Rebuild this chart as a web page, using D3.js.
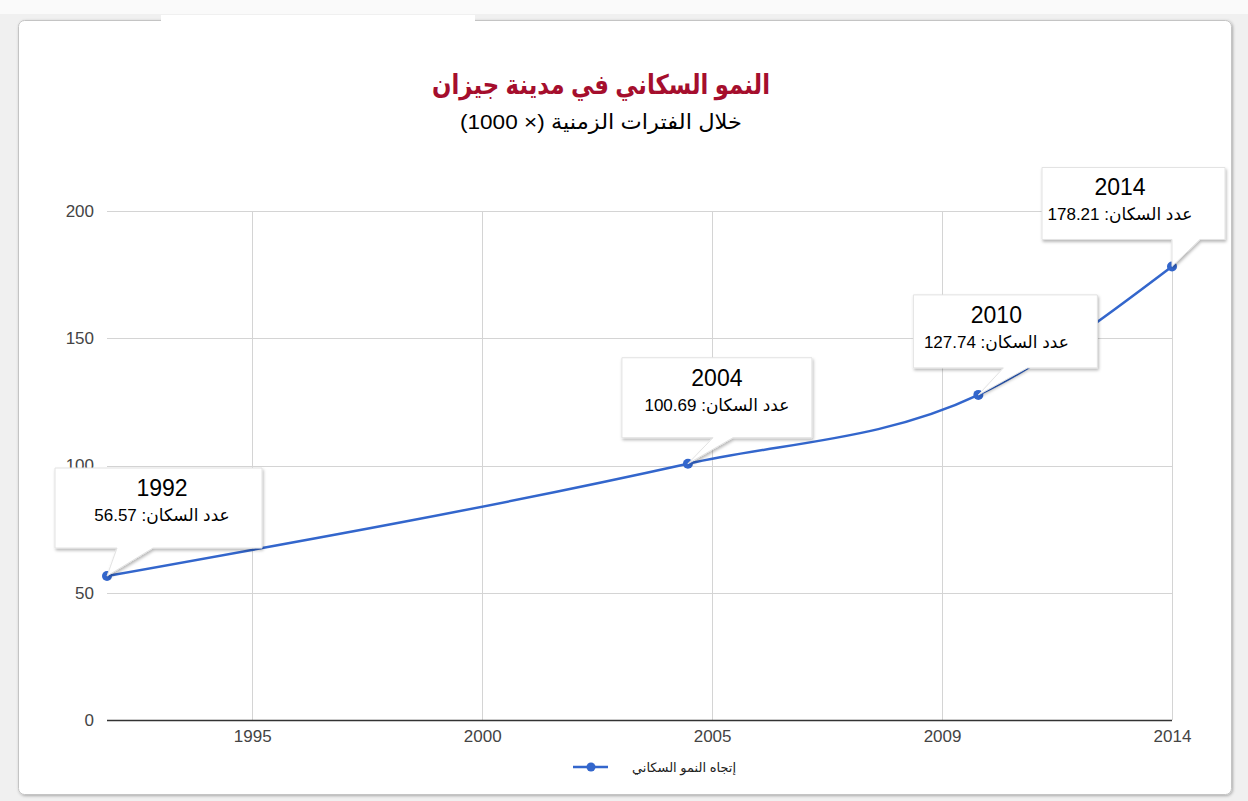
<!DOCTYPE html>
<html>
<head>
<meta charset="utf-8">
<style>
  body {
    background-color: #f0f0f0;
    margin: 0px;
  }
  svg {
    display: block;
  }
  text {
    font-family: "Liberation Sans", Arial, "DejaVu Sans", sans-serif;
  }
</style>
<script src="https://cdn.jsdelivr.net/npm/d3@7"></script>
</head>
<body>
<svg></svg>
<script>
// data
const years = [1992, 2004, 2010, 2014];
const population = [56.57, 100.69, 127.74, 178.21];
const xTicks = [1995, 1999.75, 2004.5, 2009.25, 2014];
const xTickLabels = ["1995", "2000", "2005", "2009", "2014"];
const yTicks = [0, 50, 100, 150, 200];

const title = "النمو السكاني في مدينة جيزان";
const subtitle = "خلال الفترات الزمنية (× 1000)";
const seriesName = "إتجاه النمو السكاني";
const valueLabel = "عدد السكان: ";

// callout placement relative to each point (pixels)
const callouts = [
  {dx: -52, dy: -108, w: 207, h: 80, tx: 55, b0: 10, b1: 46},
  {dx: -66, dy: -106, w: 190, h: 80, tx: 29, b0: 25, b1: 45},
  {dx: -65, dy: -100, w: 184, h: 73, tx: 18, b0: 25, b1: 49},
  {dx: -130, dy: -99, w: 183, h: 72, tx: -52, b0: 0, b1: 28}
];

const width = 1248, height = 801;
const svg = d3.select("svg").attr("width", width).attr("height", height);

const defs = svg.append("defs");
const sh = defs.append("filter").attr("id", "shadow")
    .attr("x", "-5%").attr("y", "-5%").attr("width", "110%").attr("height", "115%");
sh.append("feDropShadow").attr("dx", 1).attr("dy", 2).attr("stdDeviation", 1.6)
    .attr("flood-color", "#000").attr("flood-opacity", 0.28);

const cardShadow = defs.append("filter").attr("id", "cardshadow")
    .attr("x", "-2%").attr("y", "-2%").attr("width", "104%").attr("height", "104%");
cardShadow.append("feDropShadow").attr("dx", 1).attr("dy", 1).attr("stdDeviation", 1.5)
    .attr("flood-color", "#000").attr("flood-opacity", 0.3);

// page frame
svg.append("rect").attr("x", 0).attr("y", 0).attr("width", width).attr("height", 14).attr("fill", "#fafafa");
svg.append("rect").attr("x", 18.5).attr("y", 20.5).attr("width", 1213).attr("height", 774)
    .attr("rx", 6).attr("fill", "#fff").attr("stroke", "#c4c4c4")
    .attr("filter", "url(#cardshadow)");
svg.append("rect").attr("x", 161).attr("y", 15).attr("width", 314).attr("height", 8).attr("fill", "#fff");

// scales
const x = d3.scaleLinear().domain([1992, 2014]).range([107, 1172]);
const y = d3.scaleLinear().domain([0, 200]).range([720, 211]);

// grid
svg.append("g").selectAll("line").data(yTicks.slice(1)).join("line")
    .attr("x1", x(1992)).attr("x2", x(2014))
    .attr("y1", d => Math.round(y(d)) + 0.5).attr("y2", d => Math.round(y(d)) + 0.5)
    .attr("stroke", "#d4d4d4");
svg.append("g").selectAll("line").data(xTicks).join("line")
    .attr("x1", d => Math.round(x(d)) + 0.5).attr("x2", d => Math.round(x(d)) + 0.5)
    .attr("y1", y(200)).attr("y2", y(0))
    .attr("stroke", "#d4d4d4");

// axes labels
const yAxis = svg.append("g").attr("transform", "translate(94,0)")
    .call(d3.axisLeft(y).tickValues(yTicks).tickSize(0).tickPadding(0));
yAxis.select(".domain").remove();
yAxis.selectAll("text").attr("font-size", 17).attr("fill", "#444")
    .attr("font-family", "'Liberation Sans', Arial, sans-serif");

const xAxis = svg.append("g").attr("transform", "translate(0,730)")
    .call(d3.axisBottom(x).tickValues(xTicks).tickSize(0).tickPadding(0)
      .tickFormat((d, i) => xTickLabels[i]));
xAxis.select(".domain").remove();
xAxis.selectAll("text").attr("font-size", 17).attr("fill", "#444")
    .attr("font-family", "'Liberation Sans', Arial, sans-serif");

// baseline
svg.append("line").attr("x1", x(1992)).attr("x2", x(2014))
    .attr("y1", y(0) + 0.5).attr("y2", y(0) + 0.5)
    .attr("stroke", "#333").attr("stroke-width", 1.5);

// series
const pts = years.map((d, i) => [x(d), y(population[i])]);
const line = d3.line().curve(d3.curveMonotoneX);
svg.append("path").attr("d", line(pts))
    .attr("fill", "none").attr("stroke", "#3366cc").attr("stroke-width", 2.5);
svg.append("g").selectAll("circle").data(pts).join("circle")
    .attr("cx", d => d[0]).attr("cy", d => d[1]).attr("r", 5).attr("fill", "#3366cc");

// callouts
pts.forEach(function(p, i) {
  const c = callouts[i];
  const g = svg.append("g");
  const left = p[0] + c.dx, top = p[1] + c.dy, bottom = top + c.h;
  g.append("path")
    .attr("d", `M${left},${top}H${left + c.w}V${bottom}H${p[0] + c.b1}L${p[0]},${p[1]}L${p[0] + c.b0},${bottom}H${left}Z`)
    .attr("fill", "#fff").attr("stroke", "#e2e2e2").attr("stroke-width", 1)
    .attr("filter", "url(#shadow)");
  g.append("text").attr("x", p[0] + c.tx).attr("y", top + 28)
    .attr("text-anchor", "middle").attr("font-size", 23).attr("fill", "#000")
    .attr("font-family", "Lato, 'Open Sans', sans-serif")
    .text(years[i]);
  g.append("text").attr("x", p[0] + c.tx).attr("y", top + 53)
    .attr("text-anchor", "middle").attr("direction", "rtl").attr("font-size", 17).attr("fill", "#000")
    .text(valueLabel + population[i].toFixed(2));
});

// title
svg.append("text").attr("x", 601).attr("y", 94).attr("text-anchor", "middle")
    .attr("font-size", 27).attr("font-weight", "bold").attr("fill", "#a50e2d")
    .attr("direction", "rtl").attr("textLength", 338).attr("lengthAdjust", "spacingAndGlyphs")
    .text(title);
svg.append("text").attr("x", 601).attr("y", 129).attr("text-anchor", "middle")
    .attr("font-size", 21).attr("fill", "#000")
    .attr("direction", "rtl").attr("textLength", 282).attr("lengthAdjust", "spacingAndGlyphs")
    .text(subtitle);

// legend
svg.append("line").attr("x1", 573).attr("x2", 608).attr("y1", 767).attr("y2", 767)
    .attr("stroke", "#3366cc").attr("stroke-width", 2.5);
svg.append("circle").attr("cx", 591).attr("cy", 767).attr("r", 4.5).attr("fill", "#3366cc");
svg.append("text").attr("x", 684).attr("y", 772).attr("text-anchor", "middle")
    .attr("font-size", 13).attr("fill", "#222").attr("direction", "rtl").text(seriesName);
</script>
</body>
</html>
